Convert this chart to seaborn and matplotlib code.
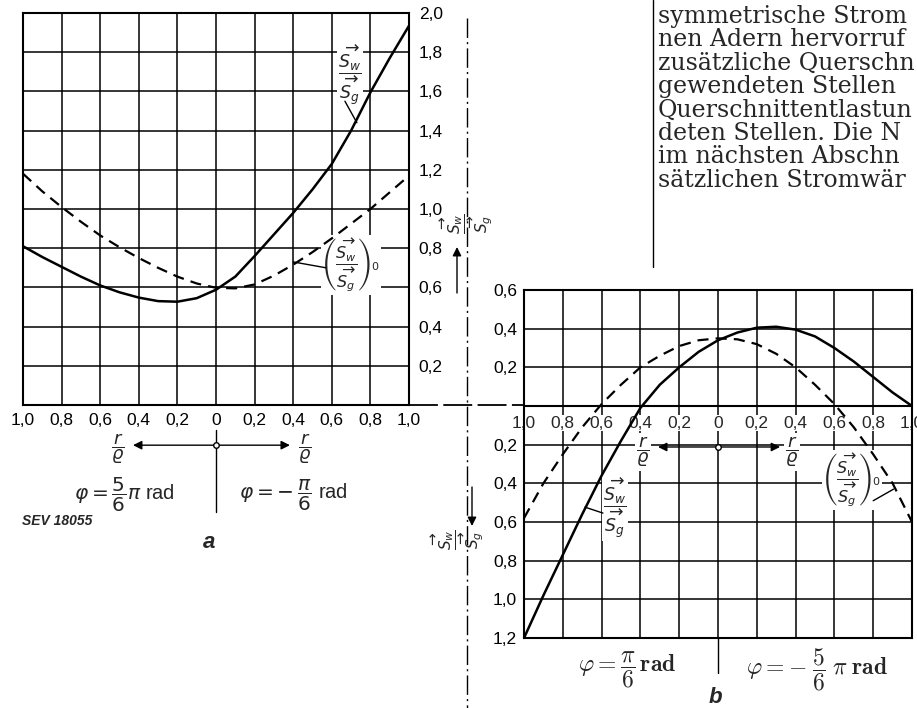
import matplotlib.pyplot as plt
import numpy as np
import pandas as pd
import seaborn as sns
from matplotlib.lines import Line2D

# r / rho positions (left half plotted as negative)
r_rho = [-1.0, -0.9, -0.8, -0.7, -0.6, -0.5, -0.4, -0.3, -0.2, -0.1, 0.0,
         0.1, 0.2, 0.3, 0.4, 0.5, 0.6, 0.7, 0.8, 0.9, 1.0]

# diagram a
a_sw = [0.81, 0.755, 0.705, 0.655, 0.61, 0.575, 0.548, 0.53, 0.527, 0.545, 0.588,
        0.655, 0.76, 0.87, 0.98, 1.10, 1.23, 1.40, 1.595, 1.77, 1.935]
a_sw0 = [1.18, 1.09, 1.01, 0.935, 0.865, 0.805, 0.75, 0.70, 0.655, 0.62, 0.598,
         0.595, 0.615, 0.66, 0.716, 0.78, 0.85, 0.925, 1.0, 1.085, 1.17]

# diagram b
b_sw = [-1.20, -0.98, -0.77, -0.56, -0.36, -0.18, -0.01, 0.11, 0.20, 0.28, 0.34,
        0.38, 0.405, 0.41, 0.395, 0.36, 0.30, 0.23, 0.15, 0.07, 0.0]
b_sw0 = [-0.58, -0.40, -0.25, -0.11, 0.01, 0.11, 0.20, 0.26, 0.31, 0.34, 0.35,
         0.345, 0.32, 0.27, 0.20, 0.11, 0.01, -0.11, -0.25, -0.40, -0.60]

x_ticks = [-1.0, -0.8, -0.6, -0.4, -0.2, 0.0, 0.2, 0.4, 0.6, 0.8, 1.0]
a_yticks = [0.2, 0.4, 0.6, 0.8, 1.0, 1.2, 1.4, 1.6, 1.8, 2.0]
b_yticks = [-1.2, -1.0, -0.8, -0.6, -0.4, -0.2, 0.0, 0.2, 0.4, 0.6]

# visible part of the page text next to the figure
text_lines = [
    "symmetrische Strom",
    "nen Adern hervorruf",
    "zusätzliche Querschn",
    "gewendeten Stellen",
    "Querschnittentlastun",
    "deten Stellen. Die N",
    "im nächsten Abschn",
    "sätzlichen Stromwär",
]


def lab(v):
    if v == 0:
        return "0"
    return f"{abs(v):.1f}".replace(".", ",")


W, H = 917, 708


def fx(x):
    return x / W


def fy(y):
    return 1 - y / H


sns.set_style("white")
plt.rcParams['font.family'] = ['Liberation Sans', 'DejaVu Sans']
plt.rcParams['mathtext.fontset'] = 'dejavusans'

fig = plt.figure(figsize=(9.17, 7.08), dpi=100)
ax_a = fig.add_axes([fx(23), fy(405), 386 / W, 392 / H])
ax_b = fig.add_axes([fx(524), fy(638), 388 / W, 348 / H])

df_a = pd.DataFrame({'r': r_rho, 'sw': a_sw, 'sw0': a_sw0})
df_b = pd.DataFrame({'r': r_rho, 'sw': b_sw, 'sw0': b_sw0})

for ax, df in [(ax_a, df_a), (ax_b, df_b)]:
    sns.lineplot(data=df, x='r', y='sw', ax=ax, color='black', lw=1.8, zorder=3)
    sns.lineplot(data=df, x='r', y='sw0', ax=ax, color='black', lw=1.6,
                 linestyle=(0, (5, 3.2)), zorder=3)
    ax.set_xlim(-1, 1)
    ax.set_xticks(x_ticks)
    ax.grid(True, color='black', lw=1.1)
    ax.set_axisbelow(True)
    for sp in ax.spines.values():
        sp.set_color('black')
        sp.set_linewidth(1.5)
    ax.set_xlabel('')
    ax.set_ylabel('')
    ax.tick_params(length=0, labelsize=12.5, colors='black')

# ---- diagram a
ax_a.set_ylim(0, 2.0)
ax_a.set_yticks(a_yticks)
ax_a.set_yticklabels([lab(v) for v in a_yticks])
ax_a.yaxis.tick_right()
ax_a.tick_params(axis='y', pad=7)
ax_a.tick_params(axis='x', pad=6)
ax_a.set_xticklabels([lab(v) for v in x_ticks])

frac = r'$\dfrac{\overrightarrow{S_w}}{\overrightarrow{S_g}}$'
frac0 = r'$\left(\dfrac{\overrightarrow{S_w}}{\overrightarrow{S_g}}\right)_0$'
rrho = r'$\dfrac{r}{\varrho}$'
wb = dict(facecolor='white', edgecolor='none', pad=1)
thin = dict(arrowstyle='-', lw=1, color='black', shrinkA=0, shrinkB=0)
head = dict(arrowstyle='-|>', lw=1, color='black', mutation_scale=13, shrinkA=0, shrinkB=0)

ax_a.text(0.694, 1.68, frac, fontsize=12.5, ha='center', va='center', bbox=wb, zorder=1.5)
ax_a.annotate('', xy=(0.73, 1.44), xytext=(0.668, 1.55), arrowprops=thin)
ax_a.text(0.70, 0.714, frac0, fontsize=11.5, ha='center', va='center', bbox=wb, zorder=1.5)
ax_a.annotate('', xy=(0.40, 0.73), xytext=(0.57, 0.70), arrowprops=thin)

# below diagram a
ya = -0.205
ax_a.annotate('', xy=(-0.43, ya), xytext=(0, ya), annotation_clip=False, arrowprops=head)
ax_a.annotate('', xy=(0.383, ya), xytext=(0, ya), annotation_clip=False, arrowprops=head)
ax_a.plot([0, 0], [-0.128, -0.546], color='black', lw=1, clip_on=False)
ax_a.plot([0], [ya], 'o', mfc='white', mec='black', ms=4, clip_on=False, zorder=5)
ax_a.text(-0.508, ya - 0.02, rrho, fontsize=13, ha='center', va='center')
ax_a.text(0.461, ya - 0.02, rrho, fontsize=13, ha='center', va='center')
ax_a.text(-0.472, -0.459, r'$\varphi = \dfrac{5}{6}\pi$ rad', fontsize=14.5, ha='center', va='center')
ax_a.text(0.40, -0.459, r'$\varphi = -\,\dfrac{\pi}{6}$ rad', fontsize=14.5, ha='center', va='center')
ax_a.text(-0.824, -0.59, 'SEV 18055', fontsize=10, fontweight='bold', fontstyle='italic',
          ha='center', va='center')
ax_a.text(-0.036, -0.70, 'a', fontsize=16, fontweight='bold', fontstyle='italic',
          ha='center', va='center')

# ---- diagram b
ax_b.set_ylim(-1.2, 0.6)
ax_b.set_yticks(b_yticks)
ax_b.set_yticklabels([lab(v) if v != 0 else '' for v in b_yticks])
ax_b.tick_params(axis='y', pad=5)
ax_b.tick_params(axis='x', labelbottom=False)
ax_b.axhline(0, color='black', lw=1.5, zorder=1)
for v in x_ticks:
    ax_b.text(v, -0.088, lab(v), fontsize=12.5, ha='center', va='center', zorder=1.6,
              bbox=dict(facecolor='white', edgecolor='none', pad=0.5), clip_on=False)

ax_b.text(-0.531, -0.528, frac, fontsize=12.5, ha='center', va='center', bbox=wb, zorder=1.5)
ax_b.annotate('', xy=(-0.686, -0.523), xytext=(-0.593, -0.554), arrowprops=thin)
ax_b.text(0.69, -0.383, frac0, fontsize=11.5, ha='center', va='center', bbox=wb, zorder=1.5)
ax_b.annotate('', xy=(0.905, -0.43), xytext=(0.80, -0.49), arrowprops=thin)

yb = -0.212
ax_b.annotate('', xy=(-0.309, yb), xytext=(0, yb), arrowprops=head)
ax_b.annotate('', xy=(0.32, yb), xytext=(0, yb), arrowprops=head)
ax_b.plot([0], [yb], 'o', mfc='white', mec='black', ms=4, zorder=5)
ax_b.text(-0.387, yb - 0.025, rrho, fontsize=13, ha='center', va='center', bbox=wb, zorder=1.5)
ax_b.text(0.381, yb - 0.025, rrho, fontsize=13, ha='center', va='center', bbox=wb, zorder=1.5)
ax_b.plot([0, 0], [-1.2, -1.381], color='black', lw=1, clip_on=False)
ax_b.text(-0.469, -1.366, r'$\varphi = \dfrac{\pi}{6}\,\mathbf{rad}$', fontsize=17,
          math_fontfamily='cm', ha='center', va='center')
ax_b.text(0.51, -1.366, r'$\varphi = -\;\dfrac{5}{6}\;\pi\;\mathbf{rad}$', fontsize=17,
          math_fontfamily='cm', ha='center', va='center')
ax_b.text(-0.015, -1.51, 'b', fontsize=16, fontweight='bold', fontstyle='italic',
          ha='center', va='center', clip_on=False)

# ---- dash-dot reference lines
fig.add_artist(Line2D([fx(467), fx(467)], [fy(18), fy(708)], transform=fig.transFigure,
                      color='black', lw=1, linestyle=(0, (14, 3, 1.5, 3))))
fig.add_artist(Line2D([fx(409), fx(524)], [fy(405), fy(405)], transform=fig.transFigure,
                      color='black', lw=1.3, linestyle=(0, (16, 3))))

# axis labels for the ratio (rotated fraction, arrow along the axis)
fig.text(fx(467), fy(224), frac, rotation=90, fontsize=11, ha='center', va='center')
fig.text(fx(458), fy(540), frac, rotation=90, fontsize=11, ha='center', va='center')
over = fig.add_axes([0, 0, 1, 1], facecolor='none')
over.set_axis_off()
over.set_xlim(0, W)
over.set_ylim(H, 0)
over.annotate('', xy=(457, 247), xytext=(457, 293), arrowprops=head)
over.annotate('', xy=(472, 526), xytext=(472, 487), arrowprops=head)

# ---- text column at top right
over.plot([653, 653], [0, 267], color='black', lw=1)
for i, line in enumerate(text_lines):
    over.text(658, 23 + 23.4 * i, line, fontsize=17, family='DejaVu Serif',
              ha='left', va='baseline')

fig.savefig('out.png', dpi=100, facecolor='white')
